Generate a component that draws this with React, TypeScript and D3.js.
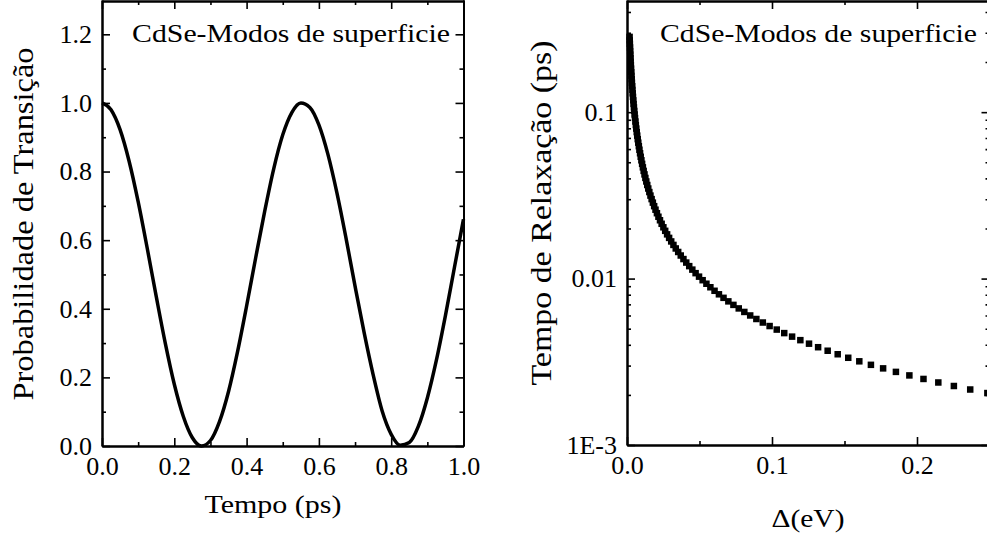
import * as d3 from "d3";
import { useEffect, useRef } from "react";

const WIDTH = 987;
const HEIGHT = 540;
const FONT = "Liberation Serif, Tinos, Times New Roman, Times, serif";

// painel esquerdo: probabilidade de transição x tempo
const tempo = [
  0, 0.025, 0.05, 0.075, 0.1, 0.125, 0.15, 0.175, 0.2, 0.225, 0.25, 0.275, 0.3, 0.325, 0.35, 0.375, 0.4,
  0.425, 0.45, 0.475, 0.5, 0.525, 0.55, 0.575, 0.6, 0.625, 0.65, 0.675, 0.7, 0.725, 0.75, 0.775, 0.8,
  0.825, 0.85, 0.875, 0.9, 0.925, 0.95, 0.975, 1.0,
];
const probabilidade = [
  1.0, 0.98, 0.922, 0.83, 0.712, 0.577, 0.436, 0.3, 0.18, 0.086, 0.024, 0.0, 0.016, 0.071, 0.159, 0.275,
  0.408, 0.548, 0.684, 0.808, 0.907, 0.972, 1.0, 0.987, 0.936, 0.85, 0.737, 0.606, 0.466, 0.331, 0.208,
  0.102, 0.034, 0.002, 0.01, 0.057, 0.14, 0.25, 0.38, 0.521, 0.661,
];
const tempoTicks = [0, 0.2, 0.4, 0.6, 0.8, 1.0];
const tempoMinor = [0.1, 0.3, 0.5, 0.7, 0.9];
const probTicks = [0, 0.2, 0.4, 0.6, 0.8, 1.0, 1.2];
const probMinor = [0.1, 0.3, 0.5, 0.7, 0.9, 1.1];

// painel direito: tempo de relaxação x delta
const delta = [
  0.0018, 0.00189, 0.001985, 0.002084, 0.002188, 0.002297, 0.002412, 0.002533, 0.002659, 0.002792,
  0.002932, 0.003079, 0.003233, 0.003394, 0.003564, 0.003742, 0.003929, 0.004126, 0.004332, 0.004549,
  0.004776, 0.005015, 0.005265, 0.005529, 0.005805, 0.006095, 0.0064, 0.00672, 0.007056, 0.007409,
  0.007779, 0.008168, 0.008577, 0.009006, 0.009456, 0.009929, 0.010425, 0.010947, 0.011494, 0.012069,
  0.012672, 0.013306, 0.013971, 0.014669, 0.015403, 0.016173, 0.016982, 0.017831, 0.018722, 0.019658,
  0.020641, 0.021673, 0.022757, 0.023895, 0.02509, 0.026344, 0.027661, 0.029044, 0.030497, 0.032021,
  0.033623, 0.035304, 0.037069, 0.038922, 0.040868, 0.042912, 0.045057, 0.04731, 0.049676, 0.05216,
  0.054768, 0.057506, 0.060381, 0.0634, 0.06657, 0.069899, 0.073394, 0.077063, 0.080917, 0.084962,
  0.089211, 0.093671, 0.098355, 0.10327, 0.10844, 0.11386, 0.11955, 0.12553, 0.1318, 0.13839,
  0.14531, 0.15258, 0.16021, 0.16822, 0.17663, 0.18546, 0.19474, 0.20447, 0.2147, 0.22543,
  0.2367, 0.24854,
];
const tau = [
  0.2833, 0.2698, 0.257, 0.2448, 0.2331, 0.222, 0.2114, 0.2014, 0.1918, 0.1826,
  0.1739, 0.1657, 0.1578, 0.1503, 0.1431, 0.1363, 0.1298, 0.1236, 0.1177, 0.1121,
  0.1068, 0.1017, 0.09686, 0.09225, 0.08785, 0.08367, 0.07968, 0.07589, 0.07228, 0.06883,
  0.06556, 0.06243, 0.05946, 0.05663, 0.05393, 0.05137, 0.04892, 0.04659, 0.04437, 0.04226,
  0.04025, 0.03833, 0.0365, 0.03477, 0.03311, 0.03153, 0.03003, 0.0286, 0.02724, 0.02594,
  0.02471, 0.02353, 0.02241, 0.02134, 0.02033, 0.01936, 0.01844, 0.01756, 0.01672, 0.01593,
  0.01517, 0.01445, 0.01376, 0.0131, 0.01248, 0.01188, 0.01132, 0.01078, 0.01027, 0.009778,
  0.009312, 0.008869, 0.008446, 0.008044, 0.007661, 0.007296, 0.006949, 0.006618, 0.006303, 0.006003,
  0.005717, 0.005445, 0.005185, 0.004938, 0.004703, 0.004479, 0.004266, 0.004063, 0.003869, 0.003685,
  0.00351, 0.003343, 0.003183, 0.003032, 0.002887, 0.00275, 0.002619, 0.002494, 0.002375, 0.002262,
  0.002155, 0.002052,
];
const deltaTicks = [0, 0.1, 0.2];
const deltaMinor = [0.05, 0.15, 0.25];
const tauTicks = [0.001, 0.01, 0.1];
const tauTickLabels = ["1E-3", "0.01", "0.1"];
const tauMinor = [
  0.002, 0.003, 0.004, 0.005, 0.006, 0.007, 0.008, 0.009,
  0.02, 0.03, 0.04, 0.05, 0.06, 0.07, 0.08, 0.09,
  0.2, 0.3, 0.4,
];

const titulo = "CdSe-Modos de superficie";

// escalas (posição dos painéis na página)
const xLeft = d3.scaleLinear().domain([0, 1]).range([102, 463.5]);
const yLeft = d3.scaleLinear().domain([0, 1.3]).range([446, 0]);
const xRight = d3.scaleLinear().domain([0, 0.25]).range([627, 989.5]);
const yRight = d3.scaleLog().domain([0.001, 0.472]).range([445, 0]);

type Sel = d3.Selection<SVGGElement, unknown, null, undefined>;

// caixa com ticks para dentro nos 4 lados
function drawBox(
  g: Sel,
  x: any,
  y: any,
  xMajor: number[],
  xMinor: number[],
  yMajor: number[],
  yMinor: number[],
  fmtX: (d: any, i: number) => string,
  fmtY: (d: any, i: number) => string
) {
  const [x0, x1] = x.range();
  const [y0, y1] = y.range();
  const blank = () => "";

  const bottom = g.append("g").attr("transform", `translate(0,${y0})`);
  bottom.call(d3.axisBottom(x).tickValues(xMajor).tickSizeInner(-8).tickSizeOuter(0).tickPadding(11).tickFormat(fmtX));
  bottom.append("g").call(d3.axisBottom(x).tickValues(xMinor).tickSizeInner(-4).tickSizeOuter(0).tickFormat(blank));

  const top = g.append("g").attr("transform", `translate(0,${y1 + 1})`);
  top.call(d3.axisTop(x).tickValues(xMajor).tickSizeInner(-8).tickSizeOuter(0).tickFormat(blank));
  top.append("g").call(d3.axisTop(x).tickValues(xMinor).tickSizeInner(-4).tickSizeOuter(0).tickFormat(blank));

  const left = g.append("g").attr("transform", `translate(${x0},0)`);
  left.call(d3.axisLeft(y).tickValues(yMajor).tickSizeInner(-8).tickSizeOuter(0).tickPadding(10).tickFormat(fmtY));
  left.append("g").call(d3.axisLeft(y).tickValues(yMinor).tickSizeInner(-4).tickSizeOuter(0).tickFormat(blank));

  const right = g.append("g").attr("transform", `translate(${x1},0)`);
  right.call(d3.axisRight(y).tickValues(yMajor).tickSizeInner(-8).tickSizeOuter(0).tickFormat(blank));
  right.append("g").call(d3.axisRight(y).tickValues(yMinor).tickSizeInner(-4).tickSizeOuter(0).tickFormat(blank));

  g.selectAll(".domain").attr("stroke", "#000").attr("stroke-width", 2);
  g.selectAll(".tick line").attr("stroke", "#000").attr("stroke-width", 1.6);
  g.selectAll(".tick text")
    .attr("fill", "#000")
    .attr("font-family", FONT)
    .attr("font-size", 26);
}

export default function App() {
  const axesRef = useRef<SVGGElement>(null);

  useEffect(() => {
    const root = d3.select(axesRef.current) as unknown as Sel;
    root.selectAll("*").remove();
    drawBox(
      root.append("g"),
      xLeft,
      yLeft,
      tempoTicks,
      tempoMinor,
      probTicks,
      probMinor,
      (d) => d3.format(".1f")(d),
      (d) => d3.format(".1f")(d)
    );
    drawBox(
      root.append("g"),
      xRight,
      yRight,
      deltaTicks,
      deltaMinor,
      tauTicks,
      tauMinor,
      (d) => d3.format(".1f")(d),
      (_d, i) => tauTickLabels[i]
    );
  }, []);

  const linha = d3
    .line<number>()
    .x((_d, i) => xLeft(tempo[i]))
    .y((d) => yLeft(d))
    .curve(d3.curveMonotoneX)(probabilidade) || "";

  return (
    <svg
      width={WIDTH}
      height={HEIGHT}
      style={{ position: "absolute", left: 0, top: 0, background: "#fff", fontFamily: FONT }}
    >
      <rect width={WIDTH} height={HEIGHT} fill="#fff" />
      {/* painel esquerdo */}
      <path d={linha} fill="none" stroke="#000" strokeWidth={3.5} strokeLinejoin="round" />
      <text x={132} y={42} fontSize={26} textLength={318} lengthAdjust="spacingAndGlyphs">
        {titulo}
      </text>
      <text x={273} y={513} fontSize={26} textAnchor="middle" textLength={137} lengthAdjust="spacingAndGlyphs">
        Tempo (ps)
      </text>
      <text
        transform="translate(33,224) rotate(-90)"
        fontSize={30}
        textAnchor="middle"
        textLength={353}
        lengthAdjust="spacingAndGlyphs"
      >
        Probabilidade de Transição
      </text>

      {/* painel direito */}
      <g>
        {delta.map((d, i) => (
          <rect key={i} x={xRight(d) - 3.25} y={yRight(tau[i]) - 3.25} width={6.5} height={6.5} fill="#000" />
        ))}
      </g>
      <text x={660} y={42} fontSize={26} textLength={317} lengthAdjust="spacingAndGlyphs">
        {titulo}
      </text>
      <text x={808} y={527} fontSize={26} textAnchor="middle" textLength={73} lengthAdjust="spacingAndGlyphs">
        Δ(eV)
      </text>
      <text
        transform="translate(551,213) rotate(-90)"
        fontSize={30}
        textAnchor="middle"
        textLength={345}
        lengthAdjust="spacingAndGlyphs"
      >
        Tempo de Relaxação (ps)
      </text>

      <g ref={axesRef} />
    </svg>
  );
}
